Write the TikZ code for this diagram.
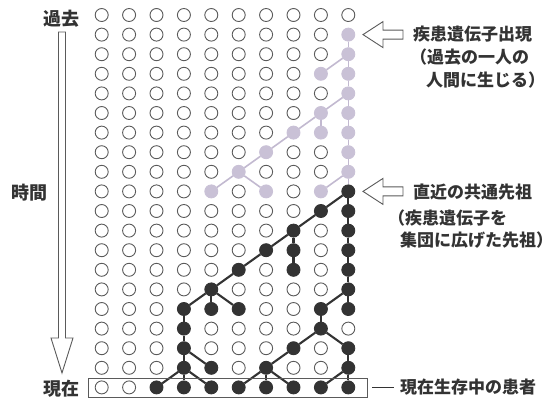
\documentclass[tikz,border=0pt]{standalone}
\usepackage{fontspec}
\setmainfont{Noto Sans CJK JP}
\definecolor{ink}{HTML}{333333}
\definecolor{ring}{HTML}{5A5A5A}
\definecolor{lilac}{HTML}{C9C1D6}
\definecolor{lilacline}{HTML}{C2B9D0}
\tikzset{
  cellbase/.style={circle, minimum size=13pt, inner sep=0pt, draw=ring, line width=0.9pt, fill=white},
  plain/.style={},
  lite/.style={draw=lilac, fill=lilac},
  dark/.style={draw=ink, fill=ink},
  litelink/.style={draw=lilacline, line width=1.6pt},
  darklink/.style={draw=ink, line width=2.1pt},
  lbl/.style={text=ink, font=\fontsize{17}{20}\selectfont\bfseries, inner sep=0pt},
  biglbl/.style={text=ink, font=\fontsize{18}{20}\selectfont\bfseries, inner sep=0pt},
  hollow/.style={draw=ring, line width=0.9pt, fill=white, line join=miter},
  hollowleft/.pic={\draw[hollow] (0,0) -- (20,-13) -- (20,-4.5) -- (40,-4.5) -- (40,4.5) -- (20,4.5) -- (20,13) -- cycle;}
}
\foreach \c/\r in {9/1,9/2,9/3,9/4,9/5,9/6,9/7,9/8,8/3,8/5,8/6,7/6,6/7,5/8,4/9,6/9,8/9}
  {\expandafter\gdef\csname ck-\c-\r\endcsname{lite}}
\foreach \c/\r in {9/9,9/10,9/11,9/12,9/13,9/14,9/15,8/10,7/11,7/12,7/13,6/12,5/13,4/14,4/15,5/15,
  3/15,3/16,3/17,3/18,4/18,8/15,8/16,7/17,9/17,6/18,9/18,2/19,3/19,4/19,5/19,6/19,7/19,8/19,9/19}
  {\expandafter\gdef\csname ck-\c-\r\endcsname{dark}}
\begin{document}
\begin{tikzpicture}[x=1pt, y=-1pt]
\useasboundingbox (0,0) rectangle (556,400);
% grid of people
\foreach \i in {0,...,9} {
  \foreach \k in {0,...,19} {
    \ifcsname ck-\i-\k\endcsname \edef\kind{\csname ck-\i-\k\endcsname}\else \def\kind{plain}\fi
    \node[cellbase, \kind] (c-\i-\k) at ({101.7+27.4*\i},{15+19.6*\k}) {};
  }
}
% lineage of the mutation (past)
\foreach \a/\b in {9-1/9-2,9-2/9-3,9-3/9-4,9-4/9-5,9-5/9-6,9-6/9-7,9-7/9-8,9-8/9-9,
  9-2/8-3,9-4/8-5,8-5/7-6,7-6/6-7,6-7/5-8,5-8/4-9,8-5/8-6,5-8/6-9,9-8/8-9}
  {\draw[litelink] (c-\a) -- (c-\b);}
% lineage from the common ancestor
\foreach \a/\b in {9-9/9-10,9-10/9-11,9-11/9-12,9-12/9-13,9-13/9-14,9-14/9-15,
  9-9/8-10,8-10/7-11,7-11/6-12,6-12/5-13,5-13/4-14,4-14/3-15,
  7-11/7-12,7-12/7-13,4-14/4-15,4-14/5-15,
  3-15/3-16,3-16/3-17,3-17/3-18,3-17/4-18,3-18/2-19,3-18/3-19,3-18/4-19,
  9-14/8-15,8-15/8-16,8-16/7-17,7-17/6-18,6-18/5-19,6-18/6-19,6-18/7-19,
  8-16/9-17,9-17/9-18,9-18/8-19,9-18/9-19}
  {\draw[darklink] (c-\a) -- (c-\b);}
% present-day box
\node[draw=ring, line width=0.9pt, minimum width=279pt, minimum height=19pt, inner sep=0pt] (box) at (227.5,387.5) {};
\node[lbl, anchor=west] (patient) at (400,387.5) {現在生存中の患者};
\draw[draw=ink, line width=1pt] ([xshift=5pt]box.east) -- ([xshift=-6pt]patient.west);
% time axis
\node[biglbl] (past) at (61,19) {過去};
\node[biglbl] (time) at (29,193) {時間};
\node[biglbl] (now) at (61,389) {現在};
\draw[hollow] (58.5,32) -- (58.5,338) -- (51,338) -- (62,373) -- (73,338) -- (65.5,338) -- (65.5,32) -- cycle;
% right-hand notes
\pic at ([xshift=14.7pt]c-9-1.center) {hollowleft};
\pic at ([xshift=14.7pt]c-9-9.center) {hollowleft};
\node[lbl, anchor=west] (n1) at (413,34) {疾患遺伝子出現};
\node[lbl, anchor=west] (n2) at (410,57) {（過去の一人の};
\node[lbl, anchor=west] (n3) at (426,80) {人間に生じる）};
\node[lbl, anchor=west] (m1) at (413,192) {直近の共通先祖};
\node[lbl, anchor=west] (m2) at (388,218) {（疾患遺伝子を};
\node[lbl, anchor=west] (m3) at (400,240) {集団に広げた先祖）};
\end{tikzpicture}
\end{document}
